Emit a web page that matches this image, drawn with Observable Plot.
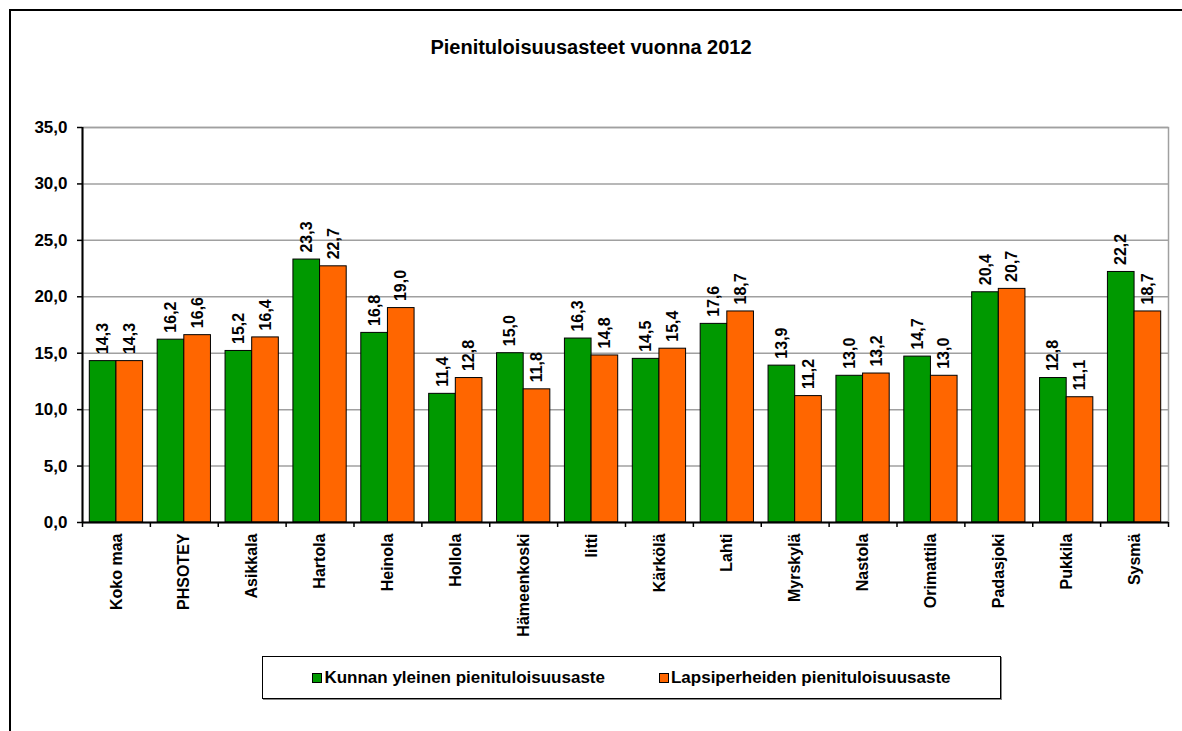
<!DOCTYPE html>
<html>
<head>
<meta charset="utf-8">
<script src="https://cdn.jsdelivr.net/npm/d3@7"></script>
<script src="https://cdn.jsdelivr.net/npm/@observablehq/plot@0.6"></script>
<style>
  html, body { margin: 0; padding: 0; background: #fff; }
  body { font-family: "Liberation Sans", Arial, sans-serif; }
  #wrap { position: relative; width: 1182px; height: 731px; overflow: hidden; }
  #outer { position: absolute; left: 9px; top: 9px; width: 1200px; height: 800px;
           border-left: 2px solid #000; border-top: 2px solid #000; }
  #title { position: absolute; left: 0; width: 1182px; top: 36px; text-align: center;
           font-weight: bold; font-size: 20px; color: #000; }
  #chart { position: absolute; left: 0; top: 0; }
  #legend { position: absolute; left: 262px; top: 656px; width: 737px; height: 41px;
            border: 1px solid #000; box-shadow: 1px 1px 0 #888; background: #fff;
            display: flex; align-items: center; justify-content: center;
            font-weight: bold; font-size: 17px; color: #000; }
  .item { display: flex; align-items: center; margin: 0 27px; }
  .sw { width: 8px; height: 8px; border: 1px solid #000; margin-right: 2px; }
</style>
</head>
<body>
<div id="wrap">
  <div id="outer"></div>
  <div id="title">Pienituloisuusasteet vuonna 2012</div>
  <div id="chart"></div>
  <div id="legend"></div>
</div>
<script>
const categories = ["Koko maa", "PHSOTEY", "Asikkala", "Hartola", "Heinola", "Hollola", "Hämeenkoski", "Iitti", "Kärkölä", "Lahti", "Myrskylä", "Nastola", "Orimattila", "Padasjoki", "Pukkila", "Sysmä"];
const yleinen = [14.3, 16.2, 15.2, 23.3, 16.8, 11.4, 15.0, 16.3, 14.5, 17.6, 13.9, 13.0, 14.7, 20.4, 12.8, 22.2];
const lapsiperheet = [14.3, 16.6, 16.4, 22.7, 19.0, 12.8, 11.8, 14.8, 15.4, 18.7, 11.2, 13.2, 13.0, 20.7, 11.1, 18.7];
const seriesNames = ["Kunnan yleinen pienituloisuusaste", "Lapsiperheiden pienituloisuusaste"];
const seriesColors = ["#009900", "#ff6600"];
const yTicks = [0, 5, 10, 15, 20, 25, 30, 35];

const data = categories.map((c, i) => ({name: c, a: yleinen[i], b: lapsiperheet[i]}));
const fmt = v => v.toFixed(1).replace(".", ",");

const W = 1182, H = 640, mL = 82, mR = 14, mT = 127, mB = 118;
const bw = (W - mL - mR) / categories.length;
const outerInset = 7.3;
const barW = bw / 2 - outerInset;
const font = "Liberation Sans, Arial, sans-serif";

const plot = Plot.plot({
  width: W, height: H,
  marginLeft: mL, marginRight: mR, marginTop: mT, marginBottom: mB,
  style: {fontFamily: font, background: "transparent", overflow: "visible"},
  x: {domain: categories, padding: 0, round: false},
  y: {domain: [0, 35]},
  marks: [
    Plot.ruleY(yTicks.filter(d => d > 0), {stroke: "#a0a0a0", strokeWidth: 1.5}),
    Plot.frame({stroke: "#a0a0a0", strokeWidth: 1.5}),
    Plot.barY(data, {x: "name", y: "a", fill: seriesColors[0], stroke: "#000", strokeWidth: 1,
      insetLeft: outerInset, insetRight: bw / 2}),
    Plot.barY(data, {x: "name", y: "b", fill: seriesColors[1], stroke: "#000", strokeWidth: 1,
      insetLeft: bw / 2, insetRight: outerInset}),
    Plot.text(data, {x: "name", y: "a", text: d => fmt(d.a), rotate: -90, textAnchor: "start",
      dx: -(barW / 2), dy: -7, fontSize: 16, fontWeight: "bold", fill: "#000"}),
    Plot.text(data, {x: "name", y: "b", text: d => fmt(d.b), rotate: -90, textAnchor: "start",
      dx: barW / 2, dy: -7, fontSize: 16, fontWeight: "bold", fill: "#000"}),
    Plot.ruleX(categories, {x: d => d, y1: 0, y2: 0, dx: -bw / 2, insetBottom: -5, stroke: "#000", strokeWidth: 1.5}),
    Plot.ruleX(categories.slice(-1), {x: d => d, y1: 0, y2: 0, dx: bw / 2, insetBottom: -5, stroke: "#000", strokeWidth: 1.5}),
    Plot.axisY({ticks: yTicks, tickFormat: fmt, tickSize: 5, tickPadding: 10, fontSize: 17, fontWeight: "bold", label: null, stroke: "#000", strokeWidth: 1.5, color: "#000"}),
    Plot.axisX({tickRotate: -90, tickSize: 0, tickPadding: 11, fontSize: 16, fontWeight: "bold", label: null, color: "#000"}),
    Plot.ruleY([0], {stroke: "#000", strokeWidth: 2}),
    Plot.ruleX([0], {x: () => categories[0], dx: -bw / 2, y1: 0, y2: 35, stroke: "#000", strokeWidth: 2})
  ]
});
document.getElementById("chart").appendChild(plot);

const legend = document.getElementById("legend");
seriesNames.forEach((n, i) => {
  const it = document.createElement("div");
  it.className = "item";
  const sw = document.createElement("div");
  sw.className = "sw";
  sw.style.background = seriesColors[i];
  const t = document.createElement("span");
  t.textContent = n;
  it.appendChild(sw); it.appendChild(t);
  legend.appendChild(it);
});
</script>
</body>
</html>
